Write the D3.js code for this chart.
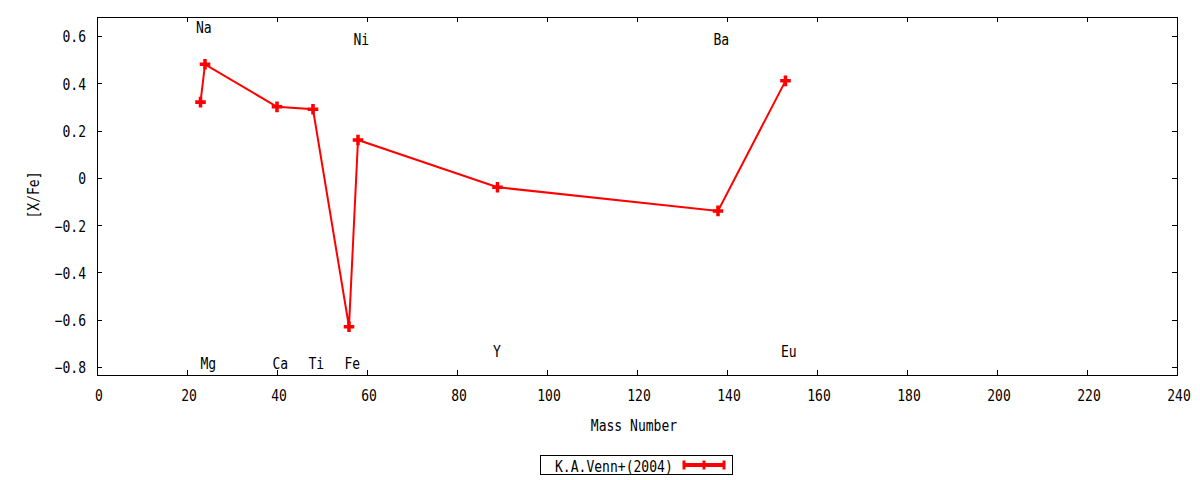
<!DOCTYPE html>
<html><head><meta charset="utf-8">
<script src="https://cdn.jsdelivr.net/npm/d3@7"></script>
<style>html,body{margin:0;padding:0;background:#fff;}svg{display:block;}</style>
</head><body>
<svg id="c" width="1200" height="480"></svg>
<script>
// Data
const elements = ["Na","Mg","Ca","Ti","Fe","Ni","Y","Ba","Eu"];
const massNumbers = [23,24,40,48,56,58,89,138,153];
const xfeValues = [0.32,0.48,0.30,0.29,-0.63,0.16,-0.04,-0.14,0.41];
const labelX = [22,23,39,47,55,57,88,137,152];
const labelY = [0.64,-0.78,-0.78,-0.78,-0.78,0.59,-0.73,0.59,-0.73];
const xTicks = [0,20,40,60,80,100,120,140,160,180,200,220,240];
const yTicks = [-0.8,-0.6,-0.4,-0.2,0,0.2,0.4,0.6];
const seriesName = "K.A.Venn+(2004)";

const L=97,R=1177,T=17,B=375;
const x=d3.scaleLinear().domain([0,240]).range([L,R]);
const y=d3.scaleLinear().domain([-0.834,0.68]).range([B,T]);
const svg=d3.select("#c");
const FONT="'DejaVu Sans Mono', monospace";
const CW=7.85;
function txt(g,s){
  return g.append("text").text(s).attr("font-family",FONT).attr("font-size",15)
    .attr("textLength",s.length*CW).attr("lengthAdjust","spacingAndGlyphs").attr("fill","#000")
    .attr("dominant-baseline","central").attr("dy",1.5);
}
const fmt=v=>v===0?"0":d3.format(".1f")(v);

// axes via d3 axis (ticks inward)
const gx=svg.append("g").attr("transform",`translate(0,${B})`)
  .call(d3.axisBottom(x).tickValues(xTicks).tickSize(-5).tickFormat(""));
const gxt=svg.append("g").attr("transform",`translate(0,${T})`)
  .call(d3.axisTop(x).tickValues(xTicks).tickSize(-5).tickFormat(""));
const gy=svg.append("g").attr("transform",`translate(${L},0)`)
  .call(d3.axisLeft(y).tickValues(yTicks).tickSize(-5).tickFormat(""));
const gyr=svg.append("g").attr("transform",`translate(${R},0)`)
  .call(d3.axisRight(y).tickValues(yTicks).tickSize(-5).tickFormat(""));
[gx,gxt,gy,gyr].forEach(g=>{g.select(".domain").remove();g.selectAll("line").attr("stroke","#000").attr("stroke-width",1).attr("shape-rendering","crispEdges");});

svg.append("rect").attr("x",L).attr("y",T).attr("width",R-L).attr("height",B-T)
  .attr("fill","none").attr("stroke","#000").attr("stroke-width",1).attr("shape-rendering","crispEdges");

// tick labels
xTicks.forEach(v=>{txt(svg,String(v)).attr("x",x(v)+2).attr("y",394).attr("text-anchor","middle");});
yTicks.forEach(v=>{txt(svg,fmt(v)).attr("x",86).attr("y",y(v)).attr("text-anchor","end");});

// axis titles
txt(svg,"Mass Number").attr("x",634).attr("y",424).attr("text-anchor","middle");
txt(svg,"[X/Fe]").attr("text-anchor","middle").attr("dy",0).attr("transform","translate(33.5,195) rotate(-90)");

// element labels
elements.forEach((e,i)=>{txt(svg,e).attr("x",x(labelX[i])).attr("y",y(labelY[i])).attr("text-anchor","start");});

// line
const pts=massNumbers.map((m,i)=>[m,xfeValues[i]]);
svg.append("path").datum(pts).attr("fill","none").attr("stroke","#ff0000").attr("stroke-width",2)
  .attr("d",d3.line().x(d=>x(d[0])).y(d=>y(d[1])));
// markers
const plus=d3.symbol().type(d3.symbolCross).size(62);
svg.selectAll("path.pt").data(pts).enter().append("path").attr("class","pt")
  .attr("transform",d=>`translate(${x(d[0])},${y(d[1])})`)
  .attr("d",plus()).attr("fill","#ff0000");

// legend
svg.append("rect").attr("x",540.5).attr("y",455.5).attr("width",192).attr("height",19)
  .attr("fill","#fff").attr("stroke","#000").attr("stroke-width",1);
txt(svg,seriesName).attr("x",555).attr("y",465).attr("text-anchor","start");
const lg=svg.append("g").attr("stroke","#ff0000");
lg.append("line").attr("x1",683).attr("x2",725).attr("y1",465).attr("y2",465).attr("stroke-width",4);
[684,704,724].forEach(px=>lg.append("line").attr("x1",px).attr("x2",px).attr("y1",460.5).attr("y2",469.5).attr("stroke-width",3));
</script>
</body></html>
